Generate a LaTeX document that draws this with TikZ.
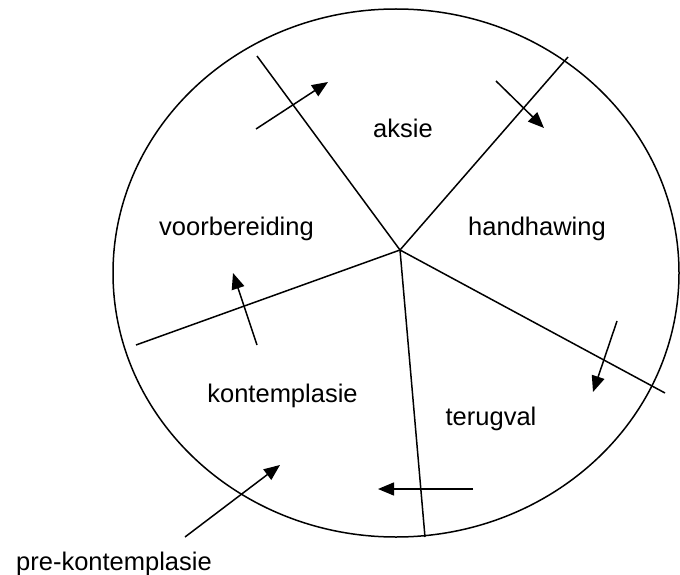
\documentclass[tikz,border=0pt]{standalone}
\usepackage{fontspec}
\setmainfont{Liberation Sans}
\usetikzlibrary{arrows.meta}
\begin{document}
\begin{tikzpicture}[x=1pt,y=-1pt,
  ln/.style={line width=1.5pt, black},
  arr/.style={ln, -{Triangle[length=16pt,width=13pt]}},
  lbl/.style={anchor=base, inner sep=0pt, font=\fontsize{25.5}{30}\selectfont}]
\useasboundingbox (0,0) rectangle (680,575);
% ellipse
\draw[ln] (396,273) ellipse [x radius=283, y radius=264];
% spokes
\coordinate (c) at (400,250);
\coordinate (s1) at (257,56);
\coordinate (s2) at (568,57);
\coordinate (s3) at (136,345);
\coordinate (s4) at (665,393);
\coordinate (s5) at (425,537);
\foreach \s in {s1,s2,s3,s4,s5} \draw[ln] (c) -- (\s);
% labels
\node[lbl] (aksie) at (403,138) {aksie};
\node[lbl] (voor) at (236.5,235) {voorbereiding};
\node[lbl] (hand) at (537,235) {handhawing};
\node[lbl] (kont) at (282.5,402) {kontemplasie};
\node[lbl] (teru) at (491,425) {terugval};
\node[lbl] (pre) at (114,570) {pre-kontemplasie};
% arrows
\coordinate (a1s) at (256,129); \coordinate (a1e) at (328,82);
\coordinate (a2s) at (496,81);  \coordinate (a2e) at (544,128);
\coordinate (a3s) at (257,345); \coordinate (a3e) at (233,273);
\coordinate (a4s) at (617,321); \coordinate (a4e) at (593,392);
\coordinate (a5s) at (473,489); \coordinate (a5e) at (378,489);
\coordinate (a6s) at (185,537); \coordinate (a6e) at (280,465);
\draw[arr] (a1s) -- (a1e);
\draw[arr] (a2s) -- (a2e);
\draw[arr] (a3s) -- (a3e);
\draw[arr] (a4s) -- (a4e);
\draw[arr] (a5s) -- (a5e);
\draw[arr] (a6s) -- (a6e);
\end{tikzpicture}
\end{document}
